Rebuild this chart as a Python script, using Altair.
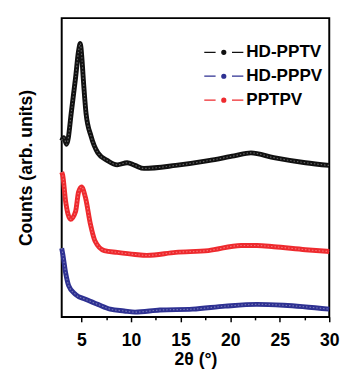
import altair as alt
import pandas as pd

# HD-PPTV (black)
pptv_x = [3.0, 3.2, 3.5, 4.0, 4.4, 4.7, 4.87, 5.05, 5.17, 5.46, 5.96, 6.65, 7.63, 8.6, 9.6, 10.4, 11.3, 14.5, 17.8, 20.4, 22.1, 24.4, 27.6, 30.0]
pptv_y = [59.0, 60.0, 57.8, 69.3, 80.1, 89.0, 91.5, 86.0, 80.1, 68.0, 60.5, 54.9, 52.3, 50.9, 51.6, 50.7, 49.7, 50.7, 52.3, 53.9, 54.9, 53.3, 51.6, 50.7]

# HD-PPPV (blue)
pppv_x = [3.0, 3.1, 3.4, 3.7, 4.4, 5.4, 6.65, 7.9, 9.3, 10.4, 12.9, 16.2, 19.5, 22.7, 25.4, 30.0]
pppv_y = [23.0, 21.2, 14.7, 10.5, 7.5, 5.9, 4.2, 2.6, 2.0, 1.6, 2.3, 2.6, 3.6, 4.2, 3.9, 2.6]

# PPTPV (red)
pptpv_x = [3.0, 3.1, 3.4, 3.9, 4.4, 4.7, 5.0, 5.4, 5.9, 6.35, 7.3, 8.6, 10.4, 11.6, 14.5, 17.8, 21.1, 22.7, 24.4, 27.6, 30.0]
pptpv_y = [48.5, 47.4, 38.6, 32.7, 35.3, 41.8, 43.5, 39.9, 31.0, 25.5, 22.2, 21.6, 20.9, 20.6, 21.6, 22.2, 23.9, 23.9, 23.5, 22.5, 21.9]

series_names = ["HD-PPTV", "HD-PPPV", "PPTPV"]
series_colors = ["#111111", "#2e3192", "#ee2a2e"]
x_ticks = [5, 7.5, 10, 12.5, 15, 17.5, 20, 22.5, 25, 27.5, 30]

rows = []
for name, xs, ys in [("HD-PPTV", pptv_x, pptv_y), ("HD-PPPV", pppv_x, pppv_y), ("PPTPV", pptpv_x, pptpv_y)]:
    for x, y in zip(xs, ys):
        rows.append({"series": name, "two_theta": x, "counts": y})
df = pd.DataFrame(rows)

sym = "M-1,0L-0.42,0M0.42,0L1,0M-0.1,0A0.1,0.1,0,1,1,0.1,0A0.1,0.1,0,1,1,-0.1,0Z"
FONT = "Liberation Sans"

legend = alt.Legend(
    title=None, orient="none", legendX=145, legendY=23,
    symbolType=sym, symbolSize=1600, symbolStrokeWidth=1.3,
    labelFont=FONT, labelFontWeight="bold", labelFontSize=17.5, labelColor="black",
    labelOffset=2, clipHeight=24, rowPadding=0.5,
)
color = alt.Color("series:N", scale=alt.Scale(domain=series_names, range=series_colors),
                  sort=series_names, legend=legend)

x_enc = alt.X("two_theta:Q",
              scale=alt.Scale(domain=[3, 30], nice=False, zero=False),
              axis=alt.Axis(title="2θ (°)", values=x_ticks,
                            labelExpr="datum.value % 5 === 0 ? datum.label : ''",
                            labelFlush=False, labelOverlap=False,
                            tickSize={"condition": {"test": "datum.value % 5 === 0", "value": 5}, "value": 3},
                            tickColor="black", tickWidth=1.5, domain=False, grid=False,
                            labelFont=FONT, labelFontWeight="bold", labelFontSize=18, labelColor="black",
                            labelPadding=10,
                            titleFont=FONT, titleFontWeight="bold", titleFontSize=18, titleColor="black",
                            titlePadding=2))
y_enc = alt.Y("counts:Q",
              scale=alt.Scale(domain=[0, 100], nice=False),
              axis=alt.Axis(title="Counts (arb. units)", labels=False, ticks=False, domain=False, grid=False,
                            titleFont=FONT, titleFontWeight="bold", titleFontSize=18, titleColor="black",
                            titlePadding=27))

base = alt.Chart(df)
lines = base.mark_line(strokeWidth=5, interpolate="monotone").encode(x=x_enc, y=y_enc, color=color)
texture = base.mark_line(strokeWidth=1.2, interpolate="monotone", color="white",
                         opacity=0.35, strokeDash=[1.5, 2]).encode(x=x_enc, y=y_enc, detail="series:N")
legend_pts = base.transform_filter("false").mark_point(filled=True, opacity=1).encode(x=x_enc, y=y_enc, color=color)

chart = alt.layer(lines, texture, legend_pts).properties(
    width=274, height=306,
    autosize="none",
    padding={"left": 55, "top": 6, "right": 11, "bottom": 51},
).configure_view(stroke="black", strokeWidth=2)

chart.save("out.html", embed_options={"renderer": "svg", "actions": False})
